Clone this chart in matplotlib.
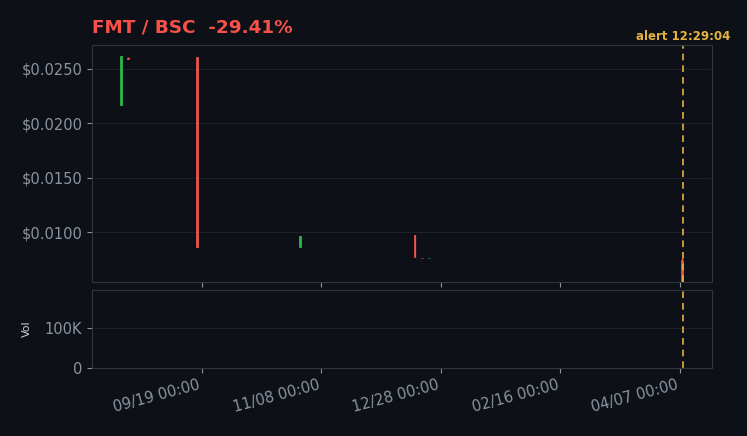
import matplotlib.pyplot as plt
import matplotlib.dates as mdates
from matplotlib.ticker import FuncFormatter
import numpy as np
import pandas as pd

# candle data
dates = pd.to_datetime(["2024-08-16", "2024-08-19", "2024-09-17", "2024-10-30",
                        "2024-12-17", "2024-12-20", "2024-12-23", "2025-04-08"])
opens = [0.02170, 0.02600, 0.02610, 0.00862, 0.00972, 0.00765, 0.00760, 0.00740]
highs = [0.02619, 0.02612, 0.02610, 0.00963, 0.00972, 0.00765, 0.00764, 0.00760]
lows = [0.02170, 0.02590, 0.00862, 0.00862, 0.00771, 0.00760, 0.00760, 0.00500]
closes = [0.02619, 0.02592, 0.00862, 0.00963, 0.00771, 0.00760, 0.00764, 0.00520]
volumes = [40, 5, 60, 10, 30, 2, 2, 20]

alert_time = pd.Timestamp("2025-04-08 12:29:04")
title = "FMT / BSC  -29.41%"

bg = "#0d1117"
grid = "#1c2128"
spine = "#30363d"
txt = "#8b949e"
up = "#2dba4e"
down = "#f85149"
down_face = "#f47067"
alert_c = "#e3b341"

fig = plt.figure(figsize=(7.47, 4.36), dpi=100, facecolor=bg)
ax = fig.add_axes([92/747, 1-282/436, 620/747, 237/436])
axv = fig.add_axes([92/747, 1-368/436, 620/747, 78/436], sharex=ax)

x = mdates.date2num(dates)
for i in range(len(x)):
    rising = closes[i] >= opens[i]
    c = up if rising else down
    ax.vlines(x[i], lows[i], highs[i], color=c, lw=0.9)
    lo, hi = min(opens[i], closes[i]), max(opens[i], closes[i])
    ax.bar(x[i], max(hi - lo, 0.00003), bottom=lo, width=0.8,
           color=c if rising else down_face, edgecolor=c, lw=0.5)
    axv.bar(x[i], volumes[i], width=0.8, color=c)

for a in (ax, axv):
    a.set_facecolor(bg)
    for s in a.spines.values():
        s.set_color(spine)
    a.tick_params(colors=txt, labelsize=10.5)
    a.grid(axis="y", color=grid, lw=0.8)
    a.set_axisbelow(True)
    a.axvline(mdates.date2num(alert_time), color=alert_c, ls=(0, (4, 3)), lw=1.2)

ax.set_xlim(mdates.date2num(pd.Timestamp("2024-08-04")), mdates.date2num(pd.Timestamp("2025-04-20 12:00")))
ax.set_ylim(0.00541, 0.0272)
ax.set_yticks([0.01, 0.015, 0.02, 0.025])
ax.yaxis.set_major_formatter(FuncFormatter(lambda v, p: f"${v:.4f}"))
ax.tick_params(axis="x", labelbottom=False)

axv.set_ylim(0, 195000)
axv.set_yticks([0, 100000])
axv.yaxis.set_major_formatter(FuncFormatter(lambda v, p: "0" if v == 0 else f"{v/1000:.0f}K"))
axv.set_ylabel("Vol", color="#c9d1d9", fontsize=8, labelpad=9)
ticks = pd.to_datetime(["2024-09-19", "2024-11-08", "2024-12-28", "2025-02-16", "2025-04-07"])
axv.set_xticks(mdates.date2num(ticks))
axv.xaxis.set_major_formatter(mdates.DateFormatter("%m/%d %H:%M"))
plt.setp(axv.get_xticklabels(), rotation=15, ha="right")

fig.text(92/747, 1-27/436, title, color=down, fontsize=13.2, fontweight="bold", va="center")
ax.text(mdates.date2num(alert_time), 1.01, "alert " + alert_time.strftime("%H:%M:%S"),
        transform=ax.get_xaxis_transform(), color=alert_c, fontsize=8.5,
        fontweight="bold", ha="center", va="bottom")

fig.savefig("out.png", dpi=100, facecolor=bg)
